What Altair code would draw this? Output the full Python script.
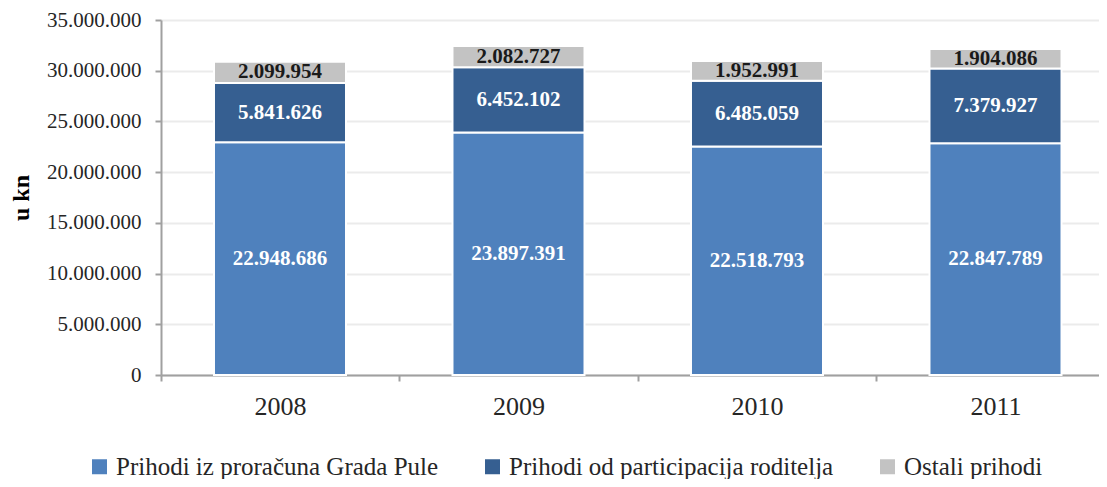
import altair as alt
import pandas as pd

years = ["2008", "2009", "2010", "2011"]
series = ["Prihodi iz proračuna Grada Pule", "Prihodi od participacija roditelja", "Ostali prihodi"]
proracun = [22948686, 23897391, 22518793, 22847789]
participacija = [5841626, 6452102, 6485059, 7379927]
ostali = [2099954, 2082727, 1952991, 1904086]
colors = ["#4F81BD", "#365F91", "#C3C3C3"]
text_colors = ["#FFFFFF", "#FFFFFF", "#1A1A1A"]
y_ticks = [0, 5000000, 10000000, 15000000, 20000000, 25000000, 30000000, 35000000]

rows = []
for i, yr in enumerate(years):
    for k, vals in enumerate([proracun, participacija, ostali]):
        v = vals[i]
        rows.append({"year": yr, "series": series[k], "order": k, "value": v,
                     "label": f"{v:,}".replace(",", "."), "tcolor": text_colors[k]})
df = pd.DataFrame(rows)

FONT = "Liberation Serif"
AX = "#A0A0A0"

xscale = alt.Scale(paddingInner=0.4465, paddingOuter=0.1897, align=0.5856)

xaxis = alt.Axis(labelAngle=0, labelFontSize=26, labelFont=FONT, labelColor="#262626",
                 tickOffset=-119.25, labelOffset=119.25, bandPosition=0.5, tickSize=6,
                 tickColor=AX, tickWidth=2, domainColor=AX, domainWidth=2,
                 labelPadding=12, grid=False)

yaxis = alt.Axis(values=y_ticks,
                 labelExpr="replace(replace(format(datum.value, ','), ',', '.'), ',', '.')",
                 labelFontSize=21, labelFont=FONT, labelColor="#262626",
                 tickSize=6, tickColor=AX, tickWidth=2, domainColor=AX, domainWidth=2,
                 labelPadding=14, gridColor="#EBEBEB", gridWidth=2,
                 title="u kn", titleFont=FONT, titleFontSize=24, titleFontWeight="bold",
                 titleColor="#000000", titlePadding=13)

yscale = alt.Scale(domain=[0, 35000000], nice=False)

base = alt.Chart(df)

bars = base.mark_bar(stroke="white", strokeWidth=2).encode(
    x=alt.X("year:N", sort=years, title=None, scale=xscale, axis=xaxis),
    y=alt.Y("value:Q", stack="zero", scale=yscale, axis=yaxis, title="u kn"),
    color=alt.Color("series:N", scale=alt.Scale(domain=series, range=colors),
                    legend=alt.Legend(orient="none", legendX=-74, legendY=434,
                                      direction="horizontal", title=None,
                                      symbolType="square", symbolSize=225,
                                      symbolStrokeWidth=0, labelLimit=600,
                                      labelFontSize=25, labelFont=FONT, labelColor="#262626",
                                      columnPadding=41, labelOffset=4)),
    order=alt.Order("order:Q"),
)

texts = base.transform_stack(
    stack="value", groupby=["year"], as_=["v0", "v1"], sort=[alt.SortField("order")]
).transform_calculate(
    mid="(datum.v0 + datum.v1) / 2"
).mark_text(font=FONT, fontSize=21, fontWeight="bold", baseline="middle").encode(
    x=alt.X("year:N", sort=years, title=None, scale=xscale, axis=xaxis),
    y=alt.Y("mid:Q", scale=yscale, axis=yaxis, title="u kn"),
    text="label:N",
    color=alt.Color("tcolor:N", scale=None),
)

chart = alt.layer(bars, texts).properties(
    width=938, height=355,
    autosize=alt.AutoSizeParams(type="none"),
    padding={"left": 153, "top": 12, "right": 0, "bottom": 104},
).configure_view(stroke=None)

chart.save("out.html", embed_options={"renderer": "svg", "actions": False})
